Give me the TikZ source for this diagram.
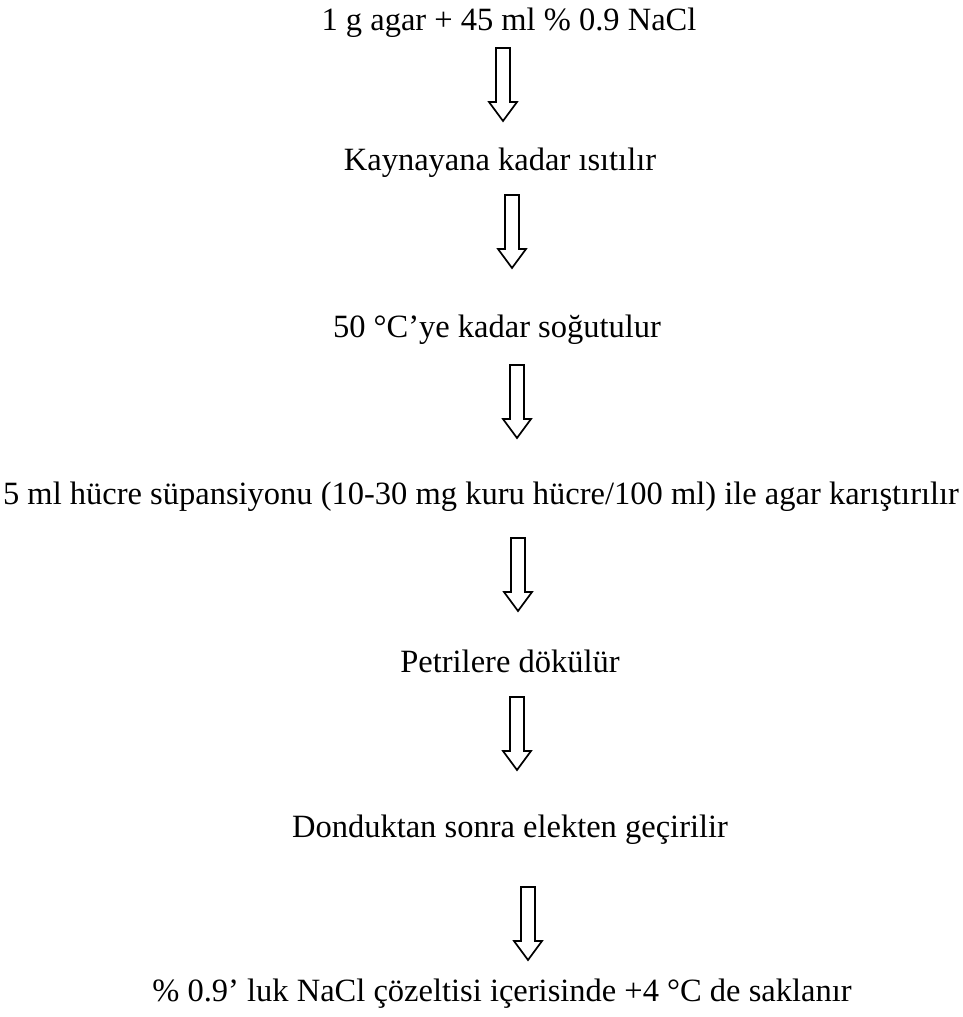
\documentclass[tikz,border=0pt]{standalone}
\usepackage{fontspec}
\setmainfont{Liberation Serif}
\usetikzlibrary{calc}
\tikzset{
  adim/.style={font=\fontsize{32.5}{38}\selectfont, anchor=base, inner sep=0pt},
  okbox/.style={draw=black, line width=1.7pt, fill=white, line join=miter},
}
% bos ok: ust uc -> sivri uc
\newcommand{\bosok}[2]{%
  \draw[okbox] ($(#1)+(-7,0)$) -- ($(#2)+(-7,19)$) -- ($(#2)+(-14,19)$) -- (#2)
    -- ($(#2)+(14,19)$) -- ($(#2)+(7,19)$) -- ($(#1)+(7,0)$) -- cycle;}
\begin{document}
\begin{tikzpicture}[x=1pt,y=1pt]
  % sinirlar
  \useasboundingbox (0,0) rectangle (963,-1017);
  % adimlar
  \node[adim] (agar) at (509,-30) {1 g agar + 45 ml \% 0.9 NaCl};
  \node[adim] (isit) at (500,-170) {Kaynayana kadar ısıtılır};
  \node[adim] (sogut) at (497,-337) {50 °C’ye kadar soğutulur};
  \node[adim] (karis) at (481,-504) {5 ml hücre süpansiyonu (10-30 mg kuru hücre/100 ml) ile agar karıştırılır};
  \node[adim] (dok) at (510,-672) {Petrilere dökülür};
  \node[adim] (elek) at (510,-837) {Donduktan sonra elekten geçirilir};
  \node[adim] (sakla) at (502,-1001) {\% 0.9’ luk NaCl çözeltisi içerisinde +4 °C de saklanır};
  % ok uclari
  \coordinate (o1a) at (503,-48);  \coordinate (o1b) at (503,-121);
  \coordinate (o2a) at (512,-195); \coordinate (o2b) at (512,-268);
  \coordinate (o3a) at (517,-365); \coordinate (o3b) at (517,-438);
  \coordinate (o4a) at (518,-538); \coordinate (o4b) at (518,-611);
  \coordinate (o5a) at (517,-697); \coordinate (o5b) at (517,-770);
  \coordinate (o6a) at (528,-887); \coordinate (o6b) at (528,-960);
  % oklar
  \bosok{o1a}{o1b}
  \bosok{o2a}{o2b}
  \bosok{o3a}{o3b}
  \bosok{o4a}{o4b}
  \bosok{o5a}{o5b}
  \bosok{o6a}{o6b}
\end{tikzpicture}
\end{document}
